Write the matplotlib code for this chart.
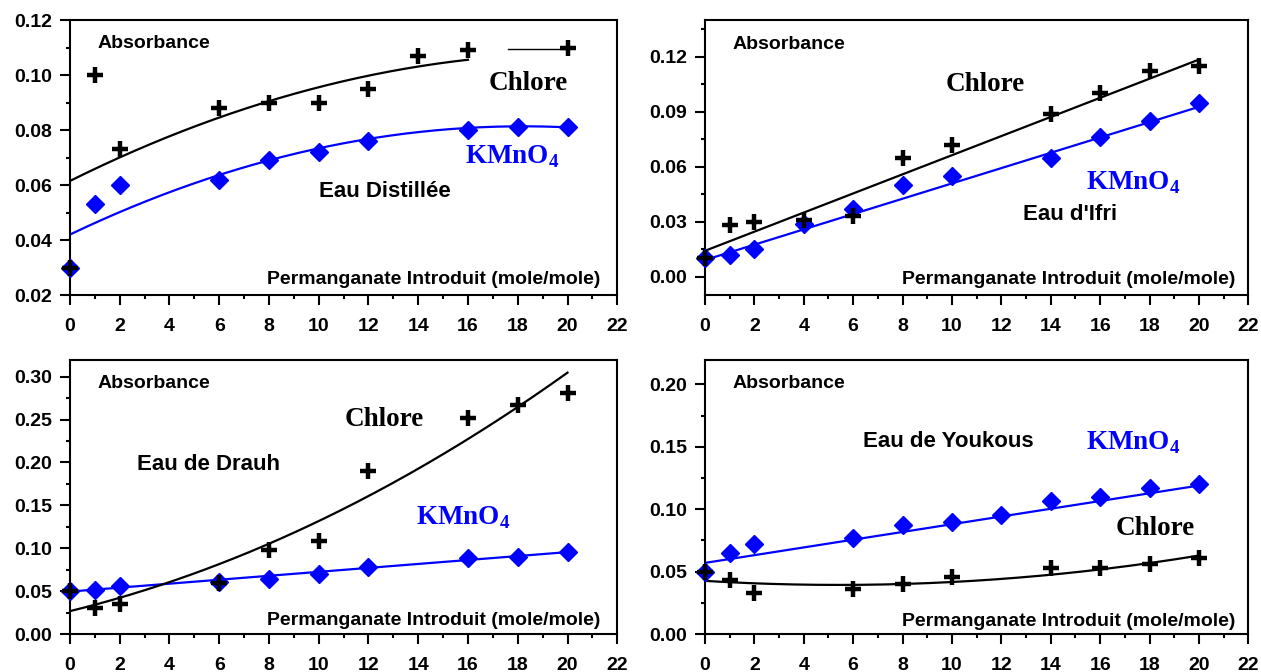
import numpy as np
import matplotlib
matplotlib.use("Agg")
import matplotlib.pyplot as plt
from matplotlib.ticker import MultipleLocator, FormatStrFormatter

plt.rcParams['font.family'] = ['Liberation Sans', 'DejaVu Sans']
plt.rcParams['font.weight'] = 'bold'

# permanganate introduced (mole/mole) and absorbance readings
x_dist = [0, 1, 2, 6, 8, 10, 12, 14, 16, 20]
chl_dist = [0.030, 0.100, 0.073, 0.088, 0.090, 0.090, 0.095, 0.107, 0.109, 0.110]
x_dist_k = [0, 1, 2, 6, 8, 10, 12, 16, 18, 20]
kmn_dist = [0.030, 0.053, 0.060, 0.062, 0.069, 0.072, 0.076, 0.080, 0.081, 0.081]

x_ifri = [0, 1, 2, 4, 6, 8, 10, 14, 16, 18, 20]
chl_ifri = [0.010, 0.028, 0.030, 0.031, 0.033, 0.065, 0.072, 0.089, 0.100, 0.112, 0.115]
kmn_ifri = [0.010, 0.012, 0.015, 0.029, 0.037, 0.050, 0.055, 0.065, 0.076, 0.085, 0.095]

x_drauh_c = [0, 1, 2, 6, 8, 10, 12, 16, 18, 20]
chl_drauh = [0.050, 0.030, 0.035, 0.060, 0.098, 0.108, 0.190, 0.252, 0.267, 0.281]
x_drauh_k = [0, 1, 2, 6, 8, 10, 12, 16, 18, 20]
kmn_drauh = [0.050, 0.051, 0.056, 0.061, 0.064, 0.070, 0.078, 0.089, 0.090, 0.096]

x_youk_c = [0, 1, 2, 6, 8, 10, 14, 16, 18, 20]
chl_youk = [0.050, 0.043, 0.033, 0.036, 0.040, 0.046, 0.053, 0.053, 0.056, 0.061]
x_youk_k = [0, 1, 2, 6, 8, 10, 12, 14, 16, 18, 20]
kmn_youk = [0.050, 0.065, 0.072, 0.077, 0.087, 0.090, 0.095, 0.107, 0.110, 0.117, 0.120]

# trend lines: polynomial coefficients (highest power first) and x range
fit_chl_dist = ([-0.000109, 0.0045, 0.0615], (0, 16))
fit_kmn_dist = ([-0.00011875, 0.004325, 0.042], (0, 20.3))
extra_chl_dist = ([17.6, 20.0], [0.1095, 0.1095])
fit_chl_ifri = ([0.00522, 0.0141], (0, 20))
fit_kmn_ifri = ([0.00418, 0.0091], (0, 20))
fit_chl_drauh = ([0.00034, 0.0071, 0.0267], (0, 20))
fit_kmn_drauh = ([0.0023, 0.0495], (0, 20))
fit_chl_youk = ([0.0001106, -0.001197, 0.0426], (0, 20))
fit_kmn_youk = ([0.0031, 0.057], (0, 20))

BLUE = '#0000ff'
fig = plt.figure(figsize=(12.61, 6.72), dpi=100)


def fit_line(ax, fit, color):
    coef, (x0, x1) = fit
    xs = np.linspace(x0, x1, 200)
    ax.plot(xs, np.polyval(coef, xs), color=color, lw=1.6, zorder=2)


def panel(rect, ylim, ymaj, ymin, fmt, xc, yc, xk, yk, fc, fk, water, pos):
    ax = fig.add_axes(rect)
    fit_line(ax, fk, BLUE)
    fit_line(ax, fc, 'black')
    ax.plot(xk, yk, 'D', color=BLUE, ms=9, mec=BLUE, clip_on=False, zorder=3)
    ax.plot(xc, yc, '+', color='black', ms=12, mew=3.2, clip_on=False, zorder=4)
    ax.set_xlim(0, 22)
    ax.set_ylim(*ylim)
    ax.xaxis.set_major_locator(MultipleLocator(2))
    ax.xaxis.set_minor_locator(MultipleLocator(1))
    ax.yaxis.set_major_locator(MultipleLocator(ymaj))
    ax.yaxis.set_minor_locator(MultipleLocator(ymin))
    ax.yaxis.set_major_formatter(FormatStrFormatter(fmt))
    ax.tick_params(which='both', direction='out', width=1.5, labelsize=14)
    ax.tick_params(which='major', length=7)
    ax.tick_params(which='minor', length=3)
    ax.tick_params(axis='x', pad=9.5)
    ax.tick_params(axis='y', pad=6)
    for s in ax.spines.values():
        s.set_linewidth(1.5)
    for lab in ax.get_xticklabels() + ax.get_yticklabels():
        lab.set_fontweight('bold')

    ax.text(0.05, pos['abs_y'], 'Absorbance', transform=ax.transAxes,
            fontsize=14, fontweight='bold', va='center', ha='left')
    ax.text(pos['perm_x'], pos['perm_y'], 'Permanganate Introduit (mole/mole)',
            transform=ax.transAxes, fontsize=14, fontweight='bold',
            va='center', ha='right')
    ax.text(*pos['chl'], 'Chlore', transform=ax.transAxes, fontsize=19.5,
            family='Liberation Serif', fontweight='bold', ha='center', va='center')
    ax.text(*pos['kmn'], r'KMnO$_\mathregular{4}$', transform=ax.transAxes,
            fontsize=19.5, family='Liberation Serif', fontweight='bold',
            color=BLUE, ha='center', va='center')
    ax.text(*pos['water'], water, transform=ax.transAxes, fontsize=16,
            fontweight='bold', ha='center', va='center')
    return ax


ax1 = panel([0.0555, 0.561, 0.434, 0.409], (0.02, 0.12), 0.02, 0.01, '%.2f',
            x_dist, chl_dist, x_dist_k, kmn_dist, fit_chl_dist, fit_kmn_dist,
            'Eau Distillée',
            dict(abs_y=0.916, perm_x=0.969, perm_y=0.055, chl=(0.837, 0.771),
                 kmn=(0.808, 0.502), water=(0.576, 0.375)))
ax1.plot(*extra_chl_dist, color='black', lw=1.0, zorder=2)

panel([0.559, 0.561, 0.431, 0.409], (-0.01, 0.14), 0.03, 0.015, '%.2f',
      x_ifri, chl_ifri, x_ifri, kmn_ifri, fit_chl_ifri, fit_kmn_ifri,
      "Eau d'Ifri",
      dict(abs_y=0.912, perm_x=0.976, perm_y=0.058, chl=(0.516, 0.766),
           kmn=(0.788, 0.409), water=(0.672, 0.292)))

panel([0.0555, 0.0565, 0.434, 0.4085], (0.0, 0.32), 0.05, 0.025, '%.2f',
      x_drauh_c, chl_drauh, x_drauh_k, kmn_drauh, fit_chl_drauh, fit_kmn_drauh,
      'Eau de Drauh',
      dict(abs_y=0.914, perm_x=0.969, perm_y=0.051, chl=(0.574, 0.780),
           kmn=(0.718, 0.423), water=(0.254, 0.619)))

panel([0.559, 0.0565, 0.431, 0.4085], (0.0, 0.22), 0.05, 0.025, '%.2f',
      x_youk_c, chl_youk, x_youk_k, kmn_youk, fit_chl_youk, fit_kmn_youk,
      'Eau de Youkous',
      dict(abs_y=0.914, perm_x=0.976, perm_y=0.047, chl=(0.829, 0.383),
           kmn=(0.788, 0.696), water=(0.448, 0.703)))

fig.savefig('out.png', dpi=100)
